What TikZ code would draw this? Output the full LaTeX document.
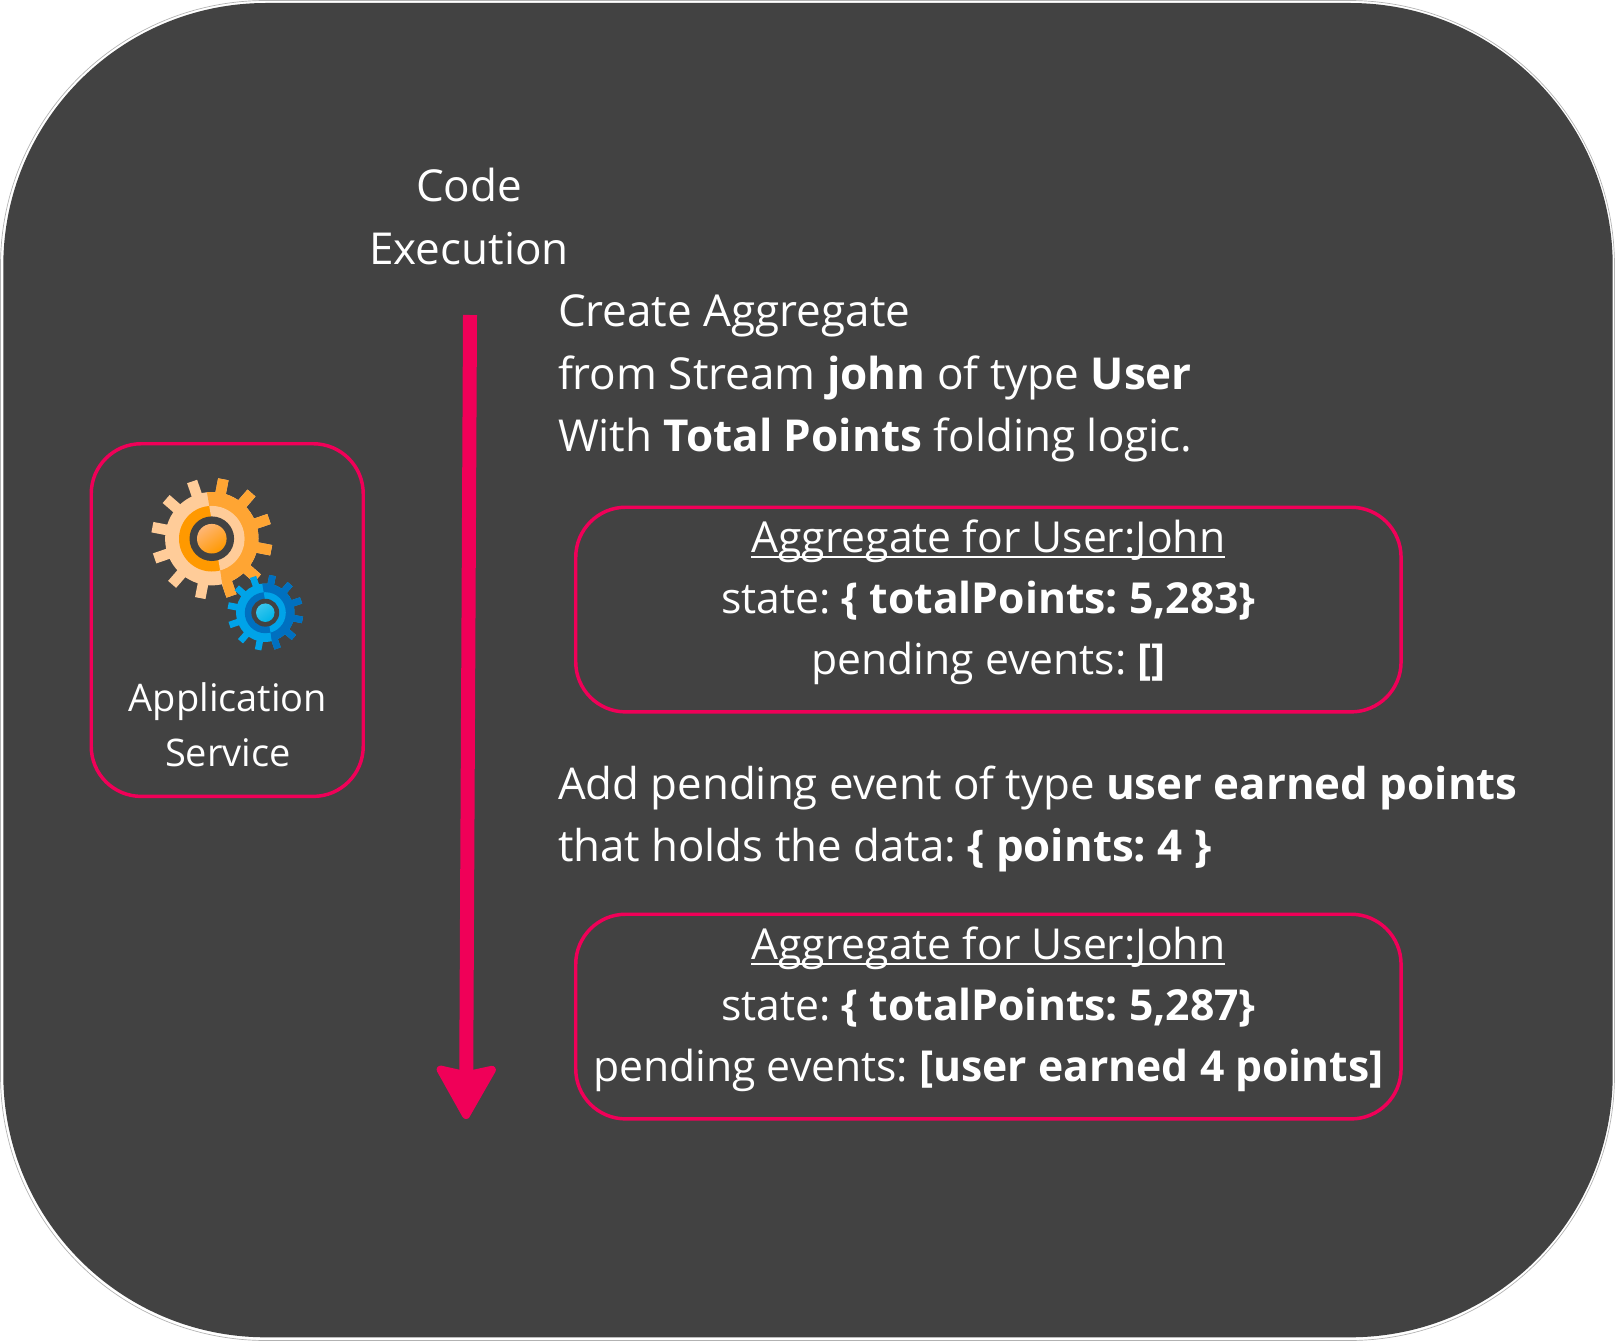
\documentclass[tikz,border=0pt]{standalone}
\usepackage{fontspec}
\setmainfont{Open Sans}
\usetikzlibrary{arrows.meta}
\definecolor{bg}{HTML}{424242}
\definecolor{pinkc}{HTML}{F00058}
\definecolor{olight}{HTML}{FFCC99}
\definecolor{omid}{HTML}{FFA533}
\definecolor{odark}{HTML}{FF9900}
\definecolor{oball}{HTML}{FFB675}
\definecolor{blight}{HTML}{00A3E8}
\definecolor{bdark}{HTML}{0070C0}
\definecolor{bballa}{HTML}{38C6EE}
\definecolor{bballb}{HTML}{00B4E8}
\frenchspacing
\newsavebox\ulbox
\newcommand\myul[1]{\sbox\ulbox{#1}\rlap{\rule[-3.6pt]{\wd\ulbox}{1.6pt}}\usebox\ulbox}
\newcommand\bigfont{\fontsize{33pt}{46.8pt}\selectfont}
\newcommand\addfont{\fontsize{32.85pt}{46.6pt}\selectfont}
\newcommand\boxfont{\fontsize{32pt}{45.5pt}\selectfont}
\newcommand\appfont{\fontsize{28.5pt}{41pt}\selectfont}
% #1 centre, #2 scale, #3 body left, #4 body right, #5 ring left, #6 ball light, #7 ball deep
\newcommand\gearicon[7]{%
  \begin{scope}[shift={#1},yscale=-1,scale=#2]
    \def\gearshape{%
      \fill (0,0) circle (46.7);
      \foreach \a in {11,41,...,341}{
        \fill[rotate=\a] (40,-5.3) rectangle (60.5,5.3);
      }}
    \begin{scope}[fill=#3]\gearshape\end{scope}
    \begin{scope}
      \clip[shift={(3,0)}] (99.6:90) -- (9.6:130) -- (279.6:90) -- cycle;
      \begin{scope}[fill=#4]\gearshape\end{scope}
    \end{scope}
    \fill[#5] (0,0) circle (32.8);
    \begin{scope}
      \clip[shift={(3,0)}] (99.6:90) -- (9.6:130) -- (279.6:90) -- cycle;
      \fill[#3] (0,0) circle (32.8);
    \end{scope}
    \fill[bg] (0,0) circle (22.3);
    \shade[top color=#6,bottom color=#7,shading angle=35] (0,0) circle (14.8);
  \end{scope}}
\tikzset{
  panel/.style={draw=pinkc,line width=2.6pt,rounded corners=37.5pt,fill=none},
  txt/.style={text=white,inner sep=0pt,outer sep=0pt},
  flow/.style={draw=pinkc,line width=10.5pt,-{Stealth[length=44pt,width=49pt,inset=5pt,round,line width=6pt]}}
}
\begin{document}
\begin{tikzpicture}[x=0.75pt,y=-0.75pt]
\useasboundingbox (0,0) rectangle (1615,1341);
\fill[white] (0,0) rectangle (1615,1341);
\draw[color=black!30,line width=0.5pt,rounded corners=199pt] (0.5,0.5) rectangle (1614.5,1340.5);
\fill[bg,rounded corners=197pt] (3.3,3) rectangle (1612.7,1337.3);

% application service box
\node[panel,minimum width=204pt,minimum height=264.5pt,anchor=north west,inner sep=0pt] (app) at (89.5,442) {};
\gearicon{(211.8,538.7)}{1}{olight}{omid}{odark}{oball}{odark}
\gearicon{(265.3,612.7)}{0.625}{blight}{bdark}{bdark}{bballa}{bballb}
\node[txt,font=\appfont,align=center,anchor=south] (applabel) at (228,767) {Application\\Service};

% code execution
\node[txt,font=\bigfont,align=center] (code) at (469,216.5) {Code\\Execution};
\coordinate (flowstart) at (470,315);
\coordinate (flowend) at (466,1119);
\draw[flow] (flowstart) -- (flowend);

% text
\node[txt,font=\bigfont,align=left,anchor=north west] (t1) at (558,295)
 {Create Aggregate\\from Stream \textbf{john} of type \textbf{User}\\With \textbf{Total Points} folding logic.};

\node[panel,minimum width=619pt,minimum height=153.5pt,anchor=north west,inner sep=0pt] (box1) at (574,505.5) {};
\node[txt,font=\boxfont,align=center,yshift=5.4pt] (box1t) at (box1.center)
 {\myul{Aggregate for User:John}\\state: \textbf{\{ totalPoints: 5,283\}}\\pending events: \textbf{[]}};

\node[txt,font=\addfont,align=left,anchor=north west] (t2) at (558,765.5)
 {Add pending event of type \textbf{user earned points}\\that holds the data: \textbf{\{ points: 4 \}}};

\node[panel,minimum width=619pt,minimum height=153.5pt,anchor=north west,inner sep=0pt] (box2) at (574,912.5) {};
\node[txt,font=\boxfont,align=center,yshift=5.4pt] (box2t) at (box2.center)
 {\myul{Aggregate for User:John}\\state: \textbf{\{ totalPoints: 5,287\}}\\pending events: \textbf{[user earned 4 points]}};
\end{tikzpicture}
\end{document}
